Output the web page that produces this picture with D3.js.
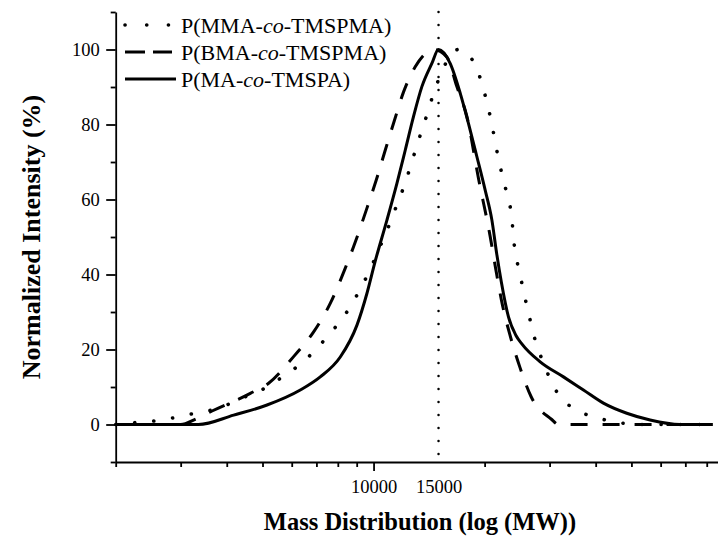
<!DOCTYPE html>
<html>
<head>
<meta charset="utf-8">
<script src="https://cdn.jsdelivr.net/npm/d3@7"></script>
<style>
  body { margin: 0; background: #fff; }
  text { font-family: "Liberation Serif", "Times New Roman", serif; fill: #000; }
</style>
</head>
<body>
<div id="wrapper"></div>
<script>
// data: [MW, normalized intensity %]
const mmaData = [[2000,0],[2150,0.2],[2295,0.6],[2578,1.0],[2909,1.9],[3275,3.0],[3686,4.0],[4568,7.7],[5121,9.9],[5589,12.3],[6201,15.4],[6738,18.5],[7355,22.5],[7961,26.5],[8558,30.7],[9107,35.3],[9632,39.9],[10600,49.2],[11100,53.9],[11590,58.8],[12110,63.7],[12570,68.6],[13020,73.5],[13520,78.5],[14040,83.4],[14540,88.3],[15160,93],[15930,97.5],[16960,100],[17720,99.4],[18970,95.2],[19780,90.1],[20360,85.2],[20930,80.1],[21360,75.3],[21900,70.1],[22500,65],[23210,59.9],[23710,55],[23950,49.7],[24350,44.8],[24960,39.9],[25590,34.8],[26300,29.8],[27030,24.7],[27990,19.9],[29180,15.3],[30620,10.5],[32710,6.5],[36300,3.4],[40690,1.7],[45630,0.6],[52800,0],[83000,0]];
const bmaData = [[2000,0],[3000,0],[3300,1.5],[3649,3.6],[4634,8.3],[5195,11],[6071,18.1],[6879,24.7],[7631,32.3],[8382,41.7],[8826,47.4],[9596,57.7],[10170,65.2],[10760,73.2],[11400,81.2],[12060,88.7],[12970,95.4],[14600,100],[15800,98],[16820,90.1],[17910,82.1],[19250,65.6],[20710,50.1],[21460,41.2],[22350,31.9],[23500,23.4],[24920,15.3],[26740,7.4],[30350,1.4],[31710,0],[83000,0]];
const maData = [[2000,0],[3350,0],[4175,2.5],[5143,5.2],[6330,9.2],[7170,12.7],[8124,18],[9016,26.5],[9597,35],[10100,43.5],[10870,54.5],[11570,64.3],[12190,73.2],[12830,82.1],[13520,90.1],[14390,96.3],[15000,100],[16130,96.3],[17180,88.3],[18080,80.3],[19060,71.4],[20070,62.5],[20930,54.5],[21570,45.5],[22200,38],[23210,28.7],[24300,23.8],[25230,21.5],[28290,16.7],[32710,12.7],[37060,9.2],[41980,5.7],[48570,3.0],[56180,1.2],[67700,0],[83000,0]];

const legendPrefix = ["P(MMA-", "P(BMA-", "P(MA-"];
const legendSuffix = ["-TMSPMA)", "-TMSPMA)", "-TMSPA)"];

const xMinorTicks = [2000,3000,4000,5000,6000,7000,8000,9000,20000,30000,40000,50000,60000,70000,80000,90000];
const xMajorTicks = [10000];
const xTickLabels = [10000, 15000];
const peakLine = 15000;
const yMajorTicks = [0,20,40,60,80,100];
const yMinorTicks = [-10,10,30,50,70,90,110];

const dimensions = {
  width: 718,
  height: 537,
  left: 115.7,
  top: 12,
  right: 725.6,
  bottom: 462
};

const svg = d3.select('#wrapper')
  .append('svg')
  .attr('width', dimensions.width)
  .attr('height', dimensions.height);

const xScale = d3.scaleLog()
  .domain([2000, 90000])
  .range([dimensions.left, dimensions.right]);

const yScale = d3.scaleLinear()
  .domain([-10, 110])
  .range([dimensions.bottom, dimensions.top]);

// axes
const xAxisG = svg.append('g').attr('transform', `translate(0,${dimensions.bottom})`);
xAxisG.append('g')
  .call(d3.axisBottom(xScale).tickValues(xMinorTicks).tickSize(5).tickSizeOuter(0).tickFormat(''));
xAxisG.append('g')
  .call(d3.axisBottom(xScale).tickValues(xMajorTicks).tickSize(9).tickSizeOuter(0).tickFormat(''))
  .select('.domain').remove();
xAxisG.append('g')
  .call(d3.axisBottom(xScale).tickValues(xTickLabels).tickSize(0).tickPadding(18).tickFormat(d3.format('d')))
  .call(g => g.select('.domain').remove())
  .selectAll('text')
  .style('font-size', '18.5px');

const yAxisG = svg.append('g').attr('transform', `translate(${dimensions.left},0)`);
yAxisG.append('g')
  .call(d3.axisLeft(yScale).tickValues(yMinorTicks).tickSize(5).tickSizeOuter(0).tickFormat(''));
yAxisG.append('g')
  .call(d3.axisLeft(yScale).tickValues(yMajorTicks).tickSize(9.5).tickPadding(6.5).tickSizeOuter(0))
  .call(g => g.select('.domain').remove())
  .selectAll('text')
  .style('font-size', '18.5px');

svg.selectAll('.domain, .tick line')
  .attr('stroke', '#000')
  .attr('stroke-width', 1.8);
svg.selectAll('.tick text').attr('fill', '#000');

// axis titles
svg.append('text')
  .attr('x', 420)
  .attr('y', 530)
  .attr('text-anchor', 'middle')
  .style('font-size', '24.5px')
  .style('font-weight', 'bold')
  .text('Mass Distribution (log (MW))');

svg.append('text')
  .attr('transform', 'translate(40,237) rotate(-90)')
  .attr('text-anchor', 'middle')
  .style('font-size', '26px')
  .style('font-weight', 'bold')
  .text('Normalized Intensity (%)');

// reference line at the peak
svg.append('line')
  .attr('x1', xScale(peakLine))
  .attr('x2', xScale(peakLine))
  .attr('y1', yScale(110))
  .attr('y2', yScale(-10))
  .attr('stroke', '#000')
  .attr('stroke-width', 2.5)
  .attr('stroke-linecap', 'round')
  .attr('stroke-dasharray', '0.1 12.9');

const lineGen = d3.line()
  .x(d => xScale(d[0]))
  .y(d => yScale(d[1]))
  .curve(d3.curveMonotoneX);

const series = [
  { data: mmaData, width: 3.6, dash: '0.1 19', cap: 'round', legendDash: '0.1 21.6', legendEnd: 170 },
  { data: bmaData, width: 3, dash: '17 15', cap: 'butt', legendDash: '20 8', legendEnd: 172 },
  { data: maData, width: 3, dash: null, cap: 'butt', legendDash: null, legendEnd: 176 }
];

series.forEach(s => {
  svg.append('path')
    .datum(s.data)
    .attr('d', lineGen)
    .attr('fill', 'none')
    .attr('stroke', '#000')
    .attr('stroke-width', s.width)
    .attr('stroke-linecap', s.cap)
    .attr('stroke-linejoin', 'round')
    .attr('stroke-dasharray', s.dash);
});

// legend
const legend = svg.append('g');
series.forEach((s, i) => {
  const cy = 25 + i * 27;
  legend.append('line')
    .attr('x1', 125)
    .attr('x2', s.legendEnd)
    .attr('y1', cy)
    .attr('y2', cy)
    .attr('stroke', '#000')
    .attr('stroke-width', s.width)
    .attr('stroke-linecap', s.cap)
    .attr('stroke-dasharray', s.legendDash);
  const t = legend.append('text')
    .attr('x', 181)
    .attr('y', cy + 8)
    .style('font-size', '22px');
  t.append('tspan').text(legendPrefix[i]);
  t.append('tspan').style('font-style', 'italic').text('co');
  t.append('tspan').text(legendSuffix[i]);
});
</script>
</body>
</html>
